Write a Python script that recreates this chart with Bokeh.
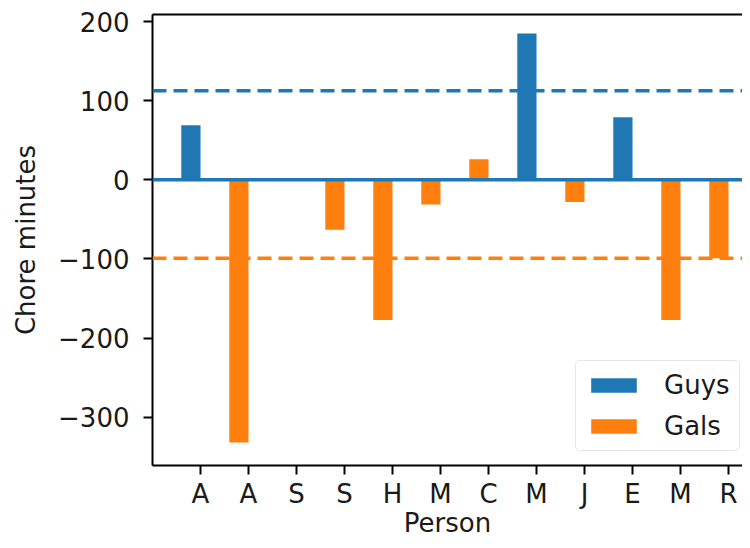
from bokeh.plotting import figure
from bokeh.models import (Range1d, FixedTicker, Span, LinearAxis, Legend,
                          LegendItem, ColumnDataSource)
from bokeh.embed import file_html
from bokeh.resources import INLINE

# ---- data ----
persons = ["A", "A", "S", "S", "H", "M", "C", "M", "J", "E", "M", "R"]
groups = ["Guys", "Gals", "Gals", "Gals", "Gals", "Gals", "Gals", "Guys",
          "Gals", "Guys", "Gals", "Gals"]
minutes = [69, -332, 0, -63, -177, -31, 26, 185, -28, 79, -177, -99]
guys_mean = 112.5
gals_mean = -99
y_ticks = [-300, -200, -100, 0, 100, 200]

BLUE = "#1f77b4"
ORANGE = "#ff7f0e"
FONT = "DejaVu Sans"
FS = "26px"
TXT = "#1a1a1a"

p = figure(width=742, height=540, output_backend="svg", toolbar_location=None,
           x_range=Range1d(-1.0, 11.2917), y_range=Range1d(-361, 209),
           min_border_left=152, min_border_right=0, min_border_top=14,
           min_border_bottom=74)
p.grid.visible = False
p.outline_line_color = None
p.background_fill_color = "white"
p.border_fill_color = "white"

def src_for(g):
    idx = [i for i, gg in enumerate(groups) if gg == g]
    return ColumnDataSource(dict(x=[i - 0.2 for i in idx],
                                 top=[minutes[i] for i in idx]))

r_guys = p.vbar(x="x", top="top", bottom=0, width=0.4, source=src_for("Guys"),
                fill_color=BLUE, line_color=None)
r_gals = p.vbar(x="x", top="top", bottom=0, width=0.4, source=src_for("Gals"),
                fill_color=ORANGE, line_color=None)

p.add_layout(Span(location=0, dimension="width", line_color=BLUE, line_width=3.5))
p.add_layout(Span(location=guys_mean, dimension="width", line_color=BLUE,
                  line_width=3.5, line_dash="14 7"))
p.add_layout(Span(location=gals_mean, dimension="width", line_color=ORANGE,
                  line_width=3.5, line_dash="14 7"))

# axes
for ax in (p.xaxis[0], p.yaxis[0]):
    ax.axis_line_width = 2
    ax.axis_line_color = "black"
    ax.major_tick_line_width = 2
    ax.major_tick_line_color = "black"
    ax.major_tick_out = 9
    ax.major_tick_in = 0
    ax.minor_tick_line_color = None
    ax.major_label_text_font = FONT
    ax.major_label_text_font_size = FS
    ax.major_label_text_color = TXT
    ax.axis_label_text_font = FONT
    ax.axis_label_text_font_size = FS
    ax.axis_label_text_font_style = "normal"
    ax.axis_label_text_color = TXT

p.xaxis.ticker = FixedTicker(ticks=list(range(len(persons))))
p.xaxis.major_label_overrides = {i: n for i, n in enumerate(persons)}
p.xaxis.major_label_standoff = 4
p.xaxis.axis_label = "Person"
p.xaxis.axis_label_standoff = -4

p.yaxis.ticker = FixedTicker(ticks=y_ticks)
p.yaxis.major_label_overrides = {t: str(t).replace("-", "\u2212") for t in y_ticks}
p.yaxis.axis_label = "Chore minutes"
p.yaxis.major_label_standoff = 14
p.yaxis.axis_label_standoff = 14

top_ax = LinearAxis(ticker=FixedTicker(ticks=[]), axis_line_width=2,
                    axis_line_color="black", major_tick_line_color=None,
                    minor_tick_line_color=None, major_label_text_font_size="0px")
p.add_layout(top_ax, "above")

legend = Legend(items=[LegendItem(label="Guys", renderers=[r_guys]),
                       LegendItem(label="Gals", renderers=[r_gals])],
                location=(423, 14))
legend.label_text_font = FONT
legend.label_text_font_size = FS
legend.label_text_color = TXT
legend.glyph_width = 57
legend.glyph_height = 18
legend.label_standoff = 22
legend.spacing = 11
legend.padding = 9
legend.margin = 0
legend.border_line_color = "#cccccc"
legend.border_line_width = 1.5
legend.border_radius = 5
legend.background_fill_alpha = 0.8
p.add_layout(legend, "center")

open("out.html", "w").write(file_html(p, INLINE))
